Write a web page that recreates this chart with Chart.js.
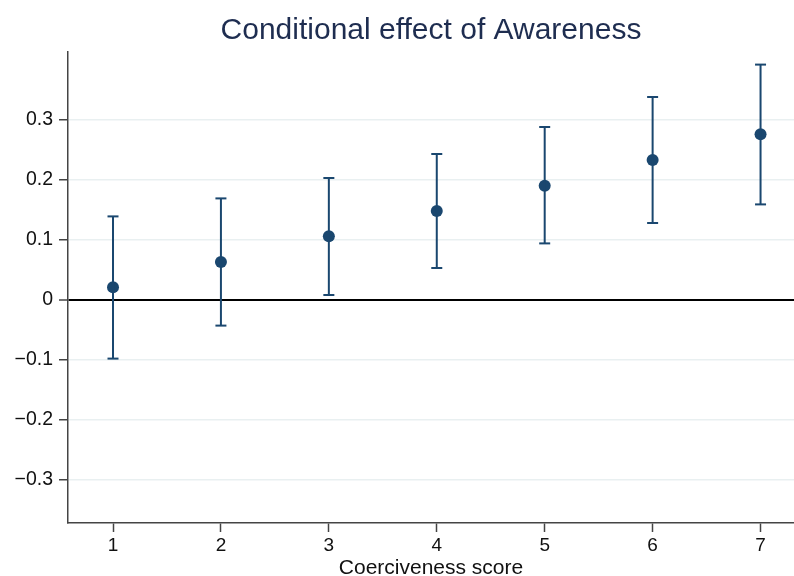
<!DOCTYPE html>
<html>
<head>
<meta charset="utf-8">
<title>Conditional effect of Awareness</title>
<script src="https://cdn.jsdelivr.net/npm/chart.js@4.4.1/dist/chart.umd.min.js"></script>
<style>
  html, body { margin: 0; padding: 0; background: #fff; }
  #wrap { width: 794px; height: 576px; }
</style>
</head>
<body>
<div id="wrap"><canvas id="effectChart" width="794" height="576"></canvas></div>
<script>
// Coerciveness score (x) and marginal effect with 95% CI
const scores = [1, 2, 3, 4, 5, 6, 7];
const effects = [0.021, 0.063, 0.106, 0.148, 0.190, 0.233, 0.276];
const ciLower = [-0.098, -0.043, 0.008, 0.053, 0.094, 0.128, 0.159];
const ciUpper = [0.139, 0.169, 0.203, 0.243, 0.288, 0.338, 0.392];
const yTicks = [-0.3, -0.2, -0.1, 0, 0.1, 0.2, 0.3];
const xTicks = scores;

const navy = '#1a476f';
const fontFamily = '"Liberation Sans", Arial, Helvetica, sans-serif';

// CI segments: lo -> hi for each score, broken by a null point
const ciPoints = [];
scores.forEach((s, i) => {
    ciPoints.push({ x: s, y: ciLower[i] });
    ciPoints.push({ x: s, y: ciUpper[i] });
    ciPoints.push({ x: s, y: null });
});

function fmtTick(v) {
    if (Math.abs(v) < 1e-9) return '0';
    const s = Math.abs(v).toFixed(1);
    return v < 0 ? '\u2212' + s : s;
}

new Chart(document.getElementById('effectChart').getContext('2d'), {
    type: 'scatter',
    data: {
        datasets: [
            {
                label: 'CI',
                data: ciPoints,
                showLine: true,
                spanGaps: false,
                borderColor: navy,
                borderWidth: 2,
                pointStyle: 'line',
                pointRadius: 5.5,
                pointBorderWidth: 2,
                pointBorderColor: navy,
                pointBackgroundColor: navy
            },
            {
                label: 'Effect',
                data: scores.map((s, i) => ({ x: s, y: effects[i] })),
                pointStyle: 'circle',
                pointRadius: 6,
                pointBackgroundColor: navy,
                pointBorderColor: navy,
                pointBorderWidth: 0
            }
        ]
    },
    options: {
        responsive: false,
        animation: false,
        layout: { padding: 0, autoPadding: false },
        plugins: {
            legend: { display: false },
            tooltip: { enabled: false },
            title: {
                display: true,
                fullSize: false,
                text: 'Conditional effect of Awareness',
                color: '#1e2d50',
                font: { family: fontFamily, size: 30, weight: 'normal', lineHeight: 1.2 },
                padding: { top: 13, bottom: 3 }
            }
        },
        scales: {
            x: {
                type: 'linear',
                min: 0.583,
                max: 7.31,
                afterBuildTicks: s => { s.ticks = xTicks.map(v => ({ value: v })); },
                afterFit: s => { s.height = 53; s.paddingLeft = 0; s.paddingRight = 0; },
                grid: {
                    drawOnChartArea: false,
                    drawTicks: true,
                    tickLength: 9,
                    tickColor: '#444',
                    tickWidth: 1.5
                },
                border: { color: '#444', width: 1.5 },
                ticks: {
                    color: '#111',
                    padding: 2,
                    font: { family: fontFamily, size: 19 },
                    callback: v => String(v)
                },
                title: {
                    display: true,
                    text: 'Coerciveness score',
                    color: '#111',
                    font: { family: fontFamily, size: 21, lineHeight: 1 },
                    padding: { top: 0, bottom: -3 }
                }
            },
            y: {
                type: 'linear',
                min: -0.372,
                max: 0.413,
                afterBuildTicks: s => { s.ticks = yTicks.map(v => ({ value: v })); },
                afterFit: s => { s.width = 68; s.paddingTop = 0; s.paddingBottom = 0; },
                grid: {
                    drawTicks: true,
                    tickLength: 9,
                    tickColor: '#444',
                    tickWidth: 1.5,
                    color: ctx => (ctx.tick && Math.abs(ctx.tick.value) < 1e-9) ? '#000' : '#e9f0f1',
                    lineWidth: ctx => (ctx.tick && Math.abs(ctx.tick.value) < 1e-9) ? 2 : 1.5
                },
                border: { color: '#444', width: 1.5 },
                ticks: {
                    color: '#111',
                    padding: 6,
                    font: { family: fontFamily, size: 19.5 },
                    callback: v => fmtTick(v)
                }
            }
        }
    }
});
</script>
</body>
</html>
